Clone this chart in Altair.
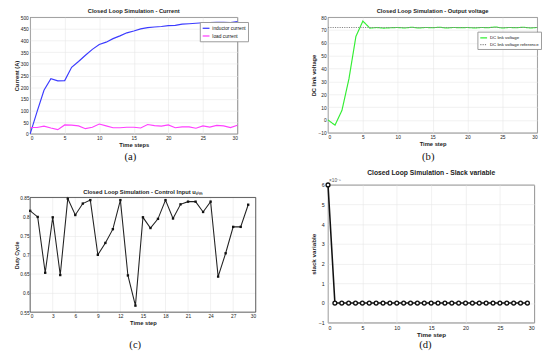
import altair as alt
import pandas as pd

# ---------------- data ----------------
steps_a = list(range(31))
inductor_current = [0, 95, 187, 236, 227, 228, 285, 310, 337, 362, 383, 393, 408, 420, 433,
                    441, 450, 455, 458, 460, 464, 465, 470, 472, 474, 476, 477, 478, 478, 477, 481]
load_current = [27, 27, 33, 25, 18, 38, 37, 34, 22, 28, 42, 34, 26, 26, 28, 28, 25, 40, 35,
                33, 38, 26, 30, 30, 24, 34, 29, 36, 34, 27, 37]
series_a = ["inductor current", "load current"]

steps_b = list(range(31))
dc_voltage = [0, -4, 7.5, 32, 65, 77, 71.5, 72, 71.5, 71.8, 72, 71.6, 72.2, 71.6, 72, 71.8,
              72.2, 71.6, 72, 71.8, 72, 71.6, 72, 71.8, 72.4, 71.6, 72, 71.8, 72.2, 71.6, 72]
ref_steps = [0, 30]
ref_voltage = [72, 72]
series_b = ["DC link voltage", "DC link voltage reference"]

steps_c = list(range(30))
duty_cycle = [0.815, 0.799, 0.653, 0.798, 0.647, 0.847, 0.804, 0.834, 0.843, 0.700,
              0.731, 0.767, 0.843, 0.646, 0.567, 0.798, 0.770, 0.794, 0.843, 0.795,
              0.832, 0.839, 0.839, 0.812, 0.839, 0.643, 0.704, 0.773, 0.773, 0.831]

steps_d = list(range(30))
slack_e5 = [6, 0, 0, 0, 0, 0, 0, 0, 0, 0, 0, 0, 0, 0, 0, 0, 0, 0, 0, 0,
            0, 0, 0, 0, 0, 0, 0, 0, 0, 0]   # in units of 1e-5

ticks_x5 = [0, 5, 10, 15, 20, 25, 30]
ticks_x3 = [0, 3, 6, 9, 12, 15, 18, 21, 24, 27, 30]
ticks_a_y = [0, 50, 100, 150, 200, 250, 300, 350, 400, 450, 500]
ticks_b_y = [-10, 0, 10, 20, 30, 40, 50, 60, 70, 80]
ticks_c_y = [0.55, 0.6, 0.65, 0.7, 0.75, 0.8, 0.85]
ticks_d_y = [-1, 0, 1, 2, 3, 4, 5, 6]

SANS = "Liberation Sans"
SERIF = "Liberation Serif"
one = pd.DataFrame({"k": [0]})
box = alt.ViewBackground(stroke="#333333", strokeWidth=0.8, strokeOpacity=1, fill="white")


def ttl(text, size=6, offset=1):
    return alt.TitleParams(text, font=SANS, fontSize=size, fontWeight="bold",
                           color="#222222", offset=offset)


def ax(values, title, fmt=None, lsize=5, tsize=6, tpad=1, lpad=2, grid=True):
    kw = dict(values=values, title=title, labelFontSize=lsize, titleFontSize=tsize,
              titlePadding=tpad, labelPadding=lpad, grid=grid)
    if fmt:
        kw["format"] = fmt
    return alt.Axis(**kw)


def panel_label(text, x, y):
    return alt.Chart(one).mark_text(text=text, font=SERIF, fontSize=11, color="#111111").encode(
        x=alt.value(x), y=alt.value(y))


def spacer(w=1, h=1):
    return alt.Chart(one).mark_point(opacity=0, size=1).encode(
        x=alt.value(0), y=alt.value(0)).properties(width=w, height=h)


# ---------------- panel (a) ----------------
df_a = pd.DataFrame({
    "t": steps_a + steps_a,
    "val": inductor_current + load_current,
    "ser_a": [series_a[0]] * len(steps_a) + [series_a[1]] * len(steps_a),
})
leg_a = alt.Legend(orient="none", legendX=176, legendY=5, symbolType="stroke",
                   symbolSize=50, symbolStrokeWidth=1.3, labelFontSize=5, labelFont=SANS,
                   fillColor="white", strokeColor="#999999", padding=2, rowPadding=0,
                   labelOffset=2, labelColor="#111111")
line_a = alt.Chart(df_a).mark_line(strokeWidth=1.2).encode(
    x=alt.X("t:Q", scale=alt.Scale(domain=[0, 30], nice=False), axis=ax(ticks_x5, "Time steps")),
    y=alt.Y("val:Q", scale=alt.Scale(domain=[0, 500], nice=False), axis=ax(ticks_a_y, "Current (A)")),
    color=alt.Color("ser_a:N", title=None,
                    scale=alt.Scale(domain=series_a, range=["#3b3bff", "#ff40ff"]), legend=leg_a),
)
chart_a = alt.layer(line_a, panel_label("(a)", 104, 145)).properties(
    width=215, height=121, title=ttl("Closed Loop Simulation - Current"), view=box)

# ---------------- panel (b) ----------------
df_b = pd.DataFrame({
    "t": steps_b + ref_steps,
    "val": dc_voltage + ref_voltage,
    "ser_b": [series_b[0]] * len(steps_b) + [series_b[1]] * len(ref_steps),
})
leg_b = alt.Legend(orient="none", legendX=155, legendY=15, symbolType="stroke",
                   symbolSize=50, symbolStrokeWidth=1.2, labelFontSize=4.5, labelFont=SANS,
                   fillColor="white", strokeColor="#999999", padding=2, rowPadding=0,
                   labelOffset=2, labelColor="#111111")
line_b = alt.Chart(df_b).mark_line(strokeWidth=1.2).encode(
    x=alt.X("t:Q", scale=alt.Scale(domain=[0, 30], nice=False), axis=ax(ticks_x5, "Time step")),
    y=alt.Y("val:Q", scale=alt.Scale(domain=[-10, 80], nice=False), axis=ax(ticks_b_y, "DC link voltage")),
    color=alt.Color("ser_b:N", title=None,
                    scale=alt.Scale(domain=series_b, range=["#33ee33", "#888888"]), legend=leg_b),
    strokeDash=alt.StrokeDash("ser_b:N", title=None,
                              scale=alt.Scale(domain=series_b, range=[[1, 0], [1.2, 1.2]]), legend=leg_b),
)
chart_b = alt.layer(line_b, panel_label("(b)", 104, 145)).properties(
    width=217, height=120, title=ttl("Closed Loop Simulation - Output voltage"), view=box)

# ---------------- panel (c) ----------------
# the panel's view starts 13px above its frame, so that it can share a row with (d)
CW, CH, CTOP = 234, 132, 13
df_c = pd.DataFrame({"t": steps_c, "val": duty_cycle})
df_cgrid = pd.DataFrame({"t": ticks_x3})
xc = alt.Scale(domain=[0, 30], nice=False)
grid_c = alt.Chart(df_cgrid).mark_rule(color="#e6e6e6", strokeWidth=0.6).encode(
    x=alt.X("t:Q", scale=xc, axis=ax(ticks_x3, "Time step", grid=False)),
    y=alt.value(CTOP), y2=alt.value(CH))
frame_c = alt.Chart(one).mark_rect(filled=False, stroke="#333333", strokeWidth=0.8).encode(
    x=alt.value(0), x2=alt.value(CW), y=alt.value(CTOP), y2=alt.value(CH))
line_c = alt.Chart(df_c).mark_line(
    strokeWidth=1.1, color="#222222",
    point=alt.OverlayMarkDef(filled=True, size=6, color="#111111", shape="square")).encode(
    x=alt.X("t:Q", scale=xc, axis=ax(ticks_x3, "Time step", grid=False)),
    y=alt.Y("val:Q", scale=alt.Scale(domain=[0.55, 0.85], nice=False, range=[CH, CTOP]),
            axis=ax(ticks_c_y, "Duty Cycle", fmt="~g", tsize=5.5, tpad=0.5, lpad=1)),
)
title_c = alt.Chart(one).mark_text(
    text="Closed Loop Simulation - Control Input u\u209b\u1d62\u2098", font=SANS, fontSize=6,
    fontWeight="bold", color="#222222").encode(x=alt.value(CW / 2), y=alt.value(CTOP - 6))
chart_c = alt.layer(grid_c, line_c, frame_c, title_c, panel_label("(c)", 109, 166)).properties(
    width=CW, height=CH, view=alt.ViewBackground(strokeOpacity=0, fill="white"))

# ---------------- panel (d) ----------------
df_d = pd.DataFrame({"t": steps_d, "val": slack_e5})
line_d = alt.Chart(df_d).mark_line(
    strokeWidth=1.6, color="#111111",
    point=alt.OverlayMarkDef(filled=False, fill="white", size=16, strokeWidth=1.4, color="#111111")).encode(
    x=alt.X("t:Q", scale=alt.Scale(domain=[0, 30], nice=False),
            axis=ax(ticks_x5, "Time step", lsize=5.5, tsize=6.5, tpad=1, lpad=3)),
    y=alt.Y("val:Q", scale=alt.Scale(domain=[-1, 6], nice=False),
            axis=ax(ticks_d_y, "slack variable", lsize=5.5, tsize=6.5, tpad=2, lpad=4)),
)
exp_d = alt.Chart(one).mark_text(text="\u00d710\u207b\u2075", font=SANS, fontSize=5,
                                 color="#555555", align="left").encode(
    x=alt.value(1), y=alt.value(-5))
chart_d = alt.layer(line_d, exp_d, panel_label("(d)", 101, 166)).properties(
    width=214, height=143, title=ttl("Closed Loop Simulation - Slack variable", 7, offset=2), view=box)

# ---------------- layout: grid packed with spacers (align none, flush) ----------------
cells = [
    spacer(22, 1), chart_a, spacer(75, 1), chart_b,
    spacer(1, 1), spacer(1, 53), spacer(1, 1), spacer(1, 53),
    spacer(17, 1), chart_c, spacer(56, 1), chart_d,
]
chart = alt.concat(*cells, columns=4, spacing=0, align="none", bounds="flush").resolve_scale(
    color="independent", strokeDash="independent", x="independent", y="independent"
).properties(
    padding={"left": 0, "top": -7, "right": 0, "bottom": 0},
    background="white",
).configure_view(strokeOpacity=0).configure_axis(
    labelFont=SANS, titleFont=SANS, titleFontWeight="bold", labelColor="#222222",
    titleColor="#222222", gridColor="#e6e6e6", gridWidth=0.6, domain=False, ticks=False,
)

chart.save("out.html", embed_options={"renderer": "svg", "actions": False})
